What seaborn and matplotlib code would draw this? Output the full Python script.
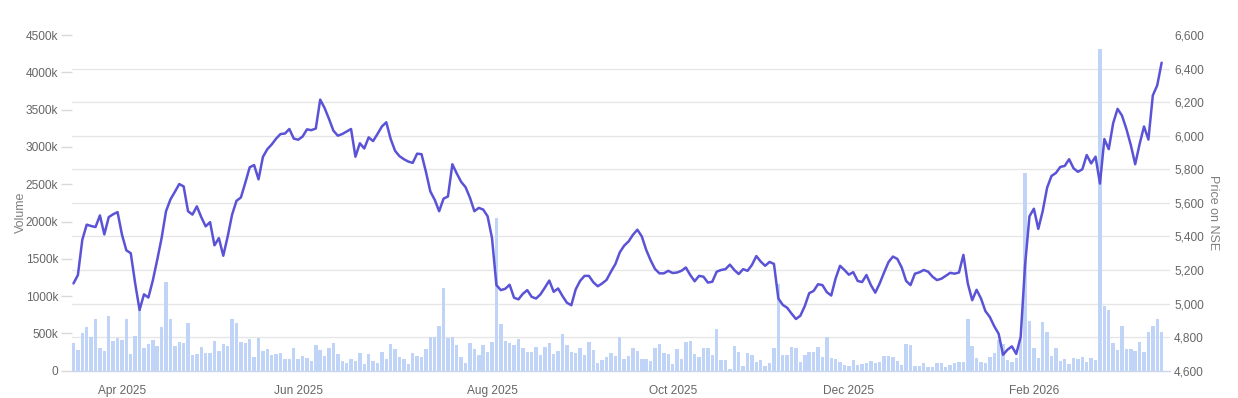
import numpy as np
import pandas as pd
import matplotlib
matplotlib.use("Agg")
import matplotlib.pyplot as plt
from matplotlib.ticker import FixedLocator, FuncFormatter
import seaborn as sns

# ---------------- data ----------------
start_date = "2025-03-13"
end_date = "2026-03-16"
holidays = ["2025-03-14", "2025-03-31", "2025-04-10", "2025-04-14", "2025-04-18",
            "2025-05-01", "2025-08-15", "2025-08-27", "2025-10-02", "2025-10-22",
            "2025-11-05", "2025-12-25", "2026-01-15", "2026-01-26", "2026-03-03"]

# daily volume (thousands of shares)
volume_k = [
    367, 277, 509, 581, 447, 693, 308, 268, 737, 402,
    434, 415, 693, 224, 469, 813, 308, 358, 411, 331,
    581, 1184, 688, 331, 380, 375, 639, 206, 224, 318,
    237, 237, 402, 268, 354, 331, 697, 635, 389, 367,
    421, 185, 445, 268, 287, 208, 220, 241, 155, 157,
    298, 155, 193, 176, 125, 344, 277, 197, 308, 367,
    220, 130, 99, 161, 130, 233, 86, 224, 130, 107,
    246, 153, 358, 287, 188, 161, 86, 233, 197, 188,
    287, 456, 456, 599, 1104, 434, 448, 344, 188, 107,
    367, 287, 206, 340, 251, 389, 2050, 622, 398, 367,
    344, 429, 308, 246, 246, 322, 208, 313, 378, 222,
    268, 488, 340, 251, 241, 308, 210, 380, 277, 99,
    143, 179, 233, 197, 448, 161, 197, 300, 268, 161,
    161, 130, 308, 354, 233, 224, 90, 287, 153, 380,
    402, 220, 188, 308, 308, 210, 555, 143, 143, 19,
    335, 246, 67, 233, 210, 121, 143, 67, 99, 300,
    1162, 206, 206, 322, 310, 119, 206, 251, 251, 313,
    188, 456, 170, 153, 117, 80, 63, 143, 76, 86,
    99, 126, 107, 117, 201, 197, 188, 130, 76, 358,
    344, 63, 63, 99, 45, 45, 103, 103, 45, 76,
    107, 121, 121, 693, 335, 168, 112, 99, 184, 233,
    411, 358, 143, 112, 174, 421, 2645, 666, 300, 166,
    657, 523, 201, 300, 130, 153, 86, 166, 157, 188,
    121, 174, 143, 4307, 871, 813, 367, 277, 603, 291,
    287, 268, 380, 255, 523, 603, 697, 523,
]

# closing price on NSE
price = [
    5120, 5170, 5380, 5470, 5462, 5456, 5525, 5412, 5515, 5532,
    5545, 5411, 5317, 5300, 5120, 4962, 5055, 5036, 5137, 5260,
    5390, 5550, 5620, 5665, 5712, 5698, 5550, 5530, 5579, 5515,
    5460, 5485, 5347, 5390, 5285, 5400, 5530, 5612, 5632, 5720,
    5812, 5825, 5740, 5874, 5920, 5948, 5983, 6010, 6013, 6040,
    5983, 5976, 5995, 6038, 6033, 6043, 6215, 6165, 6100, 6030,
    6000, 6010, 6025, 6040, 5875, 5955, 5924, 5990, 5968, 6010,
    6055, 6080, 5980, 5910, 5878, 5860, 5846, 5838, 5893, 5890,
    5785, 5668, 5618, 5550, 5625, 5638, 5830, 5775, 5725, 5693,
    5630, 5550, 5570, 5560, 5520, 5390, 5110, 5080, 5088, 5112,
    5035, 5025, 5058, 5080, 5040, 5030, 5055, 5095, 5137, 5070,
    5090, 5045, 5005, 4990, 5085, 5135, 5165, 5165, 5127, 5103,
    5120, 5141, 5190, 5235, 5305, 5345, 5370, 5410, 5440, 5400,
    5320, 5258, 5206, 5180, 5180, 5195, 5182, 5185, 5195, 5215,
    5170, 5133, 5165, 5160, 5125, 5130, 5190, 5200, 5205, 5232,
    5200, 5176, 5205, 5195, 5230, 5283, 5250, 5225, 5248, 5236,
    5030, 4992, 4975, 4940, 4908, 4928, 4985, 5062, 5075, 5115,
    5110, 5068, 5048, 5150, 5225, 5200, 5172, 5187, 5135, 5128,
    5170, 5110, 5065, 5120, 5185, 5247, 5280, 5266, 5215, 5135,
    5110, 5178, 5186, 5200, 5190, 5160, 5140, 5148, 5165, 5183,
    5178, 5185, 5290, 5120, 5020, 5082, 5030, 4955, 4920, 4865,
    4820, 4695, 4725, 4745, 4700, 4800, 5230, 5520, 5565, 5445,
    5550, 5690, 5760, 5778, 5814, 5820, 5860, 5806, 5785, 5800,
    5885, 5835, 5875, 5715, 5980, 5920, 6075, 6160, 6120, 6040,
    5945, 5830, 5950, 6055, 5977, 6240, 6300, 6435,
]

volume_ticks = [0, 500, 1000, 1500, 2000, 2500, 3000, 3500, 4000, 4500]
price_ticks = [4600, 4800, 5000, 5200, 5400, 5600, 5800, 6000, 6200, 6400, 6600]
month_ticks = ["2025-04", "2025-06", "2025-08", "2025-10", "2025-12", "2026-02"]
month_labels = ["Apr 2025", "Jun 2025", "Aug 2025", "Oct 2025", "Dec 2025", "Feb 2026"]

# ---------------- build frame ----------------
dates = pd.bdate_range(start_date, end_date, freq="C", holidays=holidays)
df = pd.DataFrame({
    "date": dates,
    "idx": np.arange(len(dates)),
    "volume": np.array(volume_k) * 1000.0,
    "price": price,
})

tick_pos = [int(df.index[df["date"].dt.strftime("%Y-%m") == m][0]) for m in month_ticks]

# ---------------- style ----------------
sns.set_style("white")
plt.rcParams["font.family"] = ["Liberation Sans", "DejaVu Sans"]

BAR_COLOR = "#c0d4f7"
LINE_COLOR = "#5b53d6"
GRID_COLOR = "#e6e6e6"
TICK_TEXT = "#666666"
TITLE_TEXT = "#7f7f7f"

W, H = 1238, 398
fig = plt.figure(figsize=(W / 100, H / 100), dpi=100)
left_px, right_px, top_px, bottom_px = 72, 1170, 35, 370.7
ax = fig.add_axes([left_px / W, (H - bottom_px) / H,
                   (right_px - left_px) / W, (bottom_px - top_px) / H])

# volume bars (categorical positions 0..N-1, one per trading day)
sns.barplot(data=df, x="idx", y="volume", width=0.78,
            color=BAR_COLOR, saturation=1, errorbar=None, ax=ax, zorder=2,
            linewidth=0)

vmax = volume_ticks[-1] * 1000
ax.set_ylim(0, vmax)
ax.yaxis.set_major_locator(FixedLocator([v * 1000 for v in volume_ticks]))
ax.yaxis.set_major_formatter(FuncFormatter(lambda v, _: "0" if v == 0 else f"{int(round(v / 1000))}k"))

# grid lines aligned with the price axis ticks (drawn behind bars)
pmin, pmax = price_ticks[0], price_ticks[-1]
grid_vals = [(p - pmin) / (pmax - pmin) * vmax for p in price_ticks]
ax.yaxis.set_minor_locator(FixedLocator(grid_vals))
ax.grid(False)
ax.grid(True, which="minor", axis="y", color=GRID_COLOR, linewidth=1, zorder=0)
ax.set_axisbelow(True)
ax.tick_params(axis="y", which="minor", length=0)
ax.tick_params(axis="y", which="major", length=8, width=1, color="#d9d9d9",
               labelsize=8.6, labelcolor=TICK_TEXT, pad=2)

ax.set_xlim(-0.34, 248.9)
ax.set_xticks(tick_pos)
ax.set_xticklabels(month_labels)
ax.tick_params(axis="x", length=6, width=1, color="#ccd6eb", labelsize=8.6,
               labelcolor=TICK_TEXT, pad=4)
ax.set_xlabel("")
ax.set_ylabel("")
for s in ["top", "right", "left"]:
    ax.spines[s].set_visible(False)
ax.spines["bottom"].set_color("#ccd6eb")
ax.spines["bottom"].set_linewidth(1)

# price line
ax2 = ax.twinx()
sns.lineplot(data=df, x="idx", y="price", ax=ax2, color=LINE_COLOR, linewidth=1.8)
ax2.set_ylim(pmin, pmax)
ax2.yaxis.set_major_locator(FixedLocator(price_ticks))
ax2.yaxis.set_major_formatter(FuncFormatter(lambda v, _: f"{int(v):,}"))
ax2.tick_params(axis="y", length=0, labelsize=8.6, labelcolor=TICK_TEXT, pad=3)
ax2.set_xlim(-0.34, 248.9)
ax2.grid(False)
ax2.set_xlabel("")
ax2.set_ylabel("")
for s in ["top", "right", "left", "bottom"]:
    ax2.spines[s].set_visible(False)

# axis titles
fig.text(20.7 / W, (H - 212.7) / H, "Volume", rotation=90, ha="center", va="center",
         fontsize=9, color=TITLE_TEXT)
fig.text(1213 / W, (H - 212.7) / H, "Price on NSE", rotation=270, ha="center", va="center",
         fontsize=9, color=TITLE_TEXT)

fig.savefig("out.png", dpi=100)
